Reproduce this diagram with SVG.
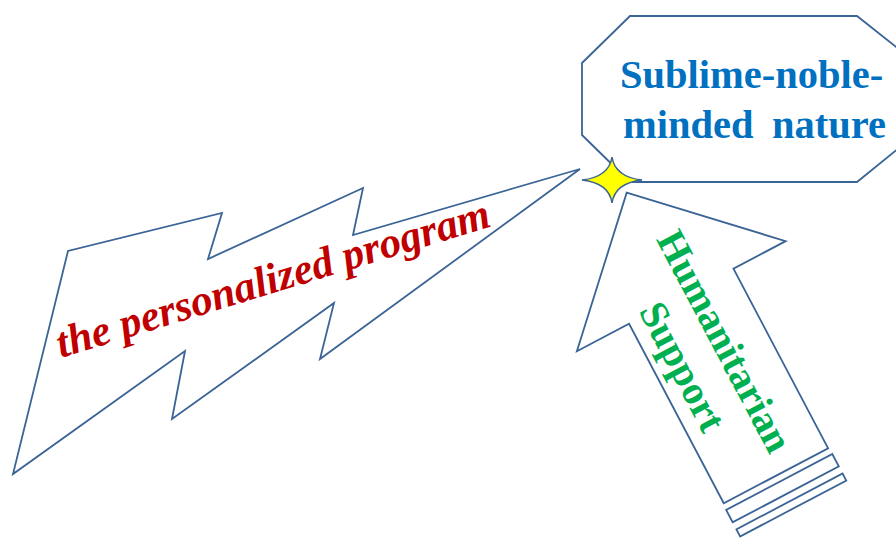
<svg xmlns="http://www.w3.org/2000/svg" width="896" height="538" viewBox="0 0 896 538">
  <style>
    .shape { fill: #FFFFFF; stroke: #3B6496; stroke-width: 1.8; stroke-linejoin: miter; }
    .blue { font-family: "Liberation Serif", "Times New Roman", serif; font-weight: bold; font-size: 40.5px; fill: #0070C0; }
    .red { font-family: "Liberation Serif", "Times New Roman", serif; font-weight: bold; font-style: italic; font-size: 43px; fill: #C00000; }
    .green { font-family: "Liberation Serif", "Times New Roman", serif; font-weight: bold; font-size: 40px; fill: #00B050; }
  </style>
  <rect width="896" height="538" fill="#FFFFFF"/>

  <g id="program-bolt">
    <polygon class="shape" points="580,169 353,235 363,188 208,259 222,213 68,251 13,474 185,351 172,419 334,303 320,359"/>
    <text class="red" transform="translate(61,358) rotate(-17)" x="0" y="0">the personalized program</text>
  </g>

  <g id="humanitarian-arrow" transform="translate(626.7,192.7) rotate(-27.8)">
    <polygon class="shape" points="0,0 118,117 59,117 59,320 -59,320 -59,117 -118,117"/>
    <rect class="shape" x="-60" y="327" width="120" height="14"/>
    <rect class="shape" x="-60" y="349" width="120" height="8"/>
    <g transform="rotate(90)">
      <text class="green" x="177" y="-4" text-anchor="middle">Humanitarian</text>
      <text class="green" x="180" y="45" text-anchor="middle">Support</text>
    </g>
  </g>

  <g id="noble-nature">
    <polygon class="shape" points="630,16 857,16 910,58 910,139 857,182 630,182 582,135 582,63"/>
    <text class="blue" x="620" y="88">Sublime-noble-</text>
    <text class="blue" y="138"><tspan x="623">minded</tspan><tspan x="772">nature</tspan></text>
  </g>

  <g id="spark">
    <path d="M612,157 Q615,177 642,180 Q615,183 612,203 Q609,183 582,180 Q609,177 612,157 Z" fill="#FFFF00" stroke="#3B6496" stroke-width="1.5"/>
  </g>
</svg>
